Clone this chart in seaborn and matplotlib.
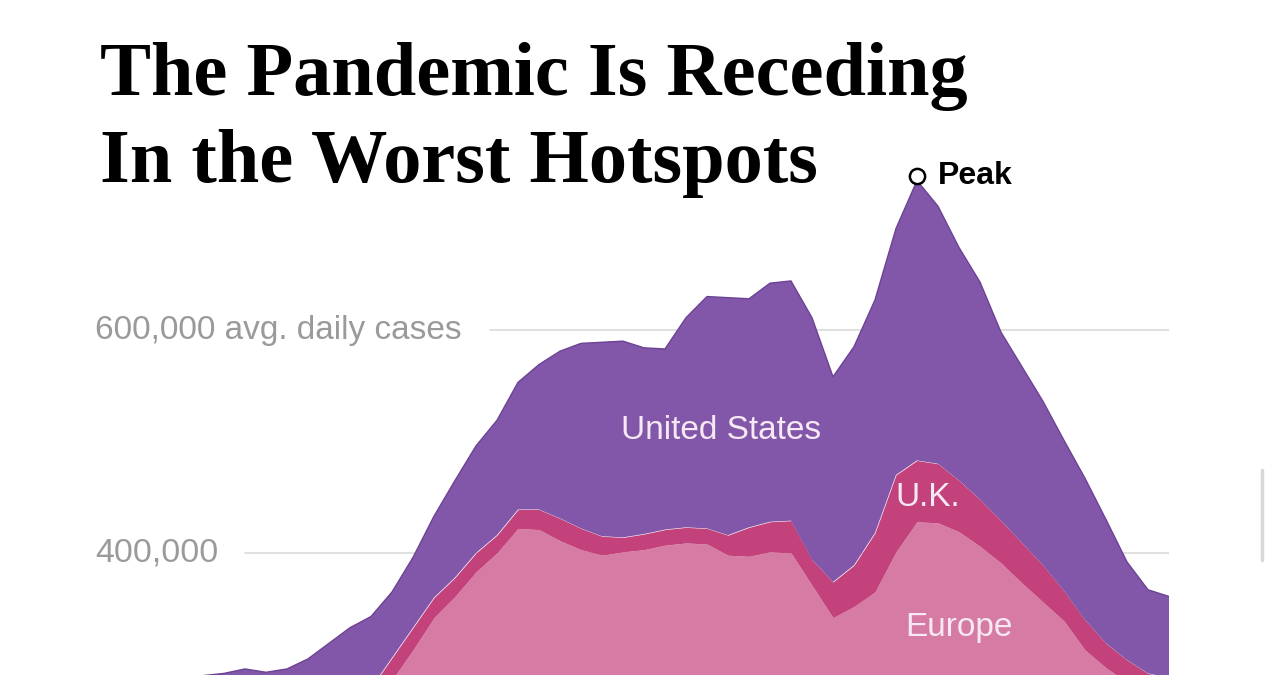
import numpy as np
import pandas as pd
import matplotlib.pyplot as plt
from matplotlib.lines import Line2D
import seaborn as sns

# --- data (thousands of avg. daily cases) ---
dates = pd.date_range("2020-09-30", "2021-02-15", freq="3D")

europe = [107, 117, 129, 143, 159, 178, 201, 225, 250, 286, 313, 342, 361, 383, 400,
          422, 421, 411, 403, 398, 401, 403, 407, 409, 408, 398, 397, 401, 400, 371,
          342, 352, 365, 401, 428, 427, 419, 406, 391, 373, 356, 339, 313, 297, 284,
          275, 268]
uk = [9, 12, 14, 17, 19, 23, 26, 28, 29, 20, 20, 18, 17, 17, 16,
      17, 18, 20, 19, 17, 13, 14, 14, 14, 14, 18, 26, 27, 29, 23,
      32, 37, 53, 69, 55, 53, 46, 42, 38, 36, 33, 27, 27, 22, 20,
      17, 20]
us = [174, 163, 153, 133, 118, 104, 92, 80, 64, 59, 63, 73, 87, 96, 103,
      114, 130, 150, 166, 174, 176, 167, 162, 188, 208, 213, 205, 214, 215, 217,
      184, 196, 209, 221, 251, 231, 209, 195, 169, 158, 147, 135, 127, 111, 88,
      75, 73]

df = pd.DataFrame({"date": dates,
                   "Europe": np.array(europe) * 1000,
                   "U.K.": np.array(uk) * 1000,
                   "United States": np.array(us) * 1000})
df["total"] = df["Europe"] + df["U.K."] + df["United States"]

colors = {"Europe": "#d67ba3", "U.K.": "#c4427b", "United States": "#8257aa"}

sns.set_theme(style="white")
plt.rcParams["font.family"] = ["Liberation Sans", "DejaVu Sans"]

fig = plt.figure(figsize=(12.7, 6.75), dpi=100)
W, H = 1270, 675
ax = fig.add_axes([203 / W, 0, 966 / W, 1])

ax.stackplot(df["date"], df["Europe"], df["U.K."], df["United States"],
             colors=[colors["Europe"], colors["U.K."], colors["United States"]],
             linewidth=0, zorder=2)
sns.lineplot(data=df, x="date", y="total", ax=ax, color="#6c4293",
             linewidth=1.0, zorder=3, legend=False)

ax.set_xlim(df["date"].iloc[0], df["date"].iloc[-1])
ax.set_ylim(290570, 895980)
ax.axis("off")

# gridlines with their labels
grid_c = "#dddddd"
ax.axhline(600000, xmin=(490 - 203) / 966, xmax=1, color=grid_c, lw=1.3, zorder=1)
ax.axhline(400000, xmin=(245 - 203) / 966, xmax=1, color=grid_c, lw=1.3, zorder=1)
ytr = ax.get_yaxis_transform()
lab_x = (95 - 203) / 966
ax.text(lab_x, 600000, "600,000 avg. daily cases", transform=ytr, ha="left",
        va="center", fontsize=24, color="#9a9a9a", clip_on=False)
ax.text(lab_x, 400000, "400,000", transform=ytr, ha="left",
        va="center", fontsize=24.5, color="#9a9a9a", clip_on=False)

# series labels
lab_c = "#f6e9f3"
ax.text(pd.Timestamp("2020-12-13"), 510000, "United States", ha="center",
        va="center", fontsize=24, color=lab_c, zorder=4)
ax.text(pd.Timestamp("2021-01-11 12:00"), 450000, "U.K.", ha="center",
        va="center", fontsize=24, color=lab_c, zorder=4)
ax.text(pd.Timestamp("2021-01-16"), 333000, "Europe", ha="center",
        va="center", fontsize=24, color=lab_c, zorder=4)

# peak marker
ip = df["total"].idxmax()
pk_x, pk_y = df.loc[ip, "date"], df.loc[ip, "total"] + 4000
ax.scatter([pk_x], [pk_y], s=120, facecolor="white", edgecolor="black",
           linewidth=1.8, zorder=6, clip_on=False)
ax.annotate("Peak", xy=(pk_x, pk_y), xytext=(15, 0), textcoords="offset points",
            ha="left", va="center", fontsize=23, fontweight="bold", color="black")

# headline, sized to match the width of the original
title_kw = dict(fontfamily=["Liberation Serif", "DejaVu Serif"], fontweight="bold",
                color="black", va="baseline", ha="left")
t1 = fig.text(100 / W, 1 - 95 / H, "The Pandemic Is Receding", fontsize=60, **title_kw)
t2 = fig.text(100 / W, 1 - 182 / H, "In the Worst Hotspots", fontsize=60, **title_kw)
fig.canvas.draw()
w1 = t1.get_window_extent().width
scale = 868 / w1
t1.set_fontsize(60 * scale)
t2.set_fontsize(60 * scale)

# faint scrollbar at the right edge of the screenshot
fig.add_artist(Line2D([1262 / W, 1262 / W], [1 - 470 / H, 1 - 560 / H],
                      transform=fig.transFigure, color="#d8d8d8", lw=2.5,
                      solid_capstyle="round"))

fig.savefig("out.png", dpi=100, facecolor="white")
